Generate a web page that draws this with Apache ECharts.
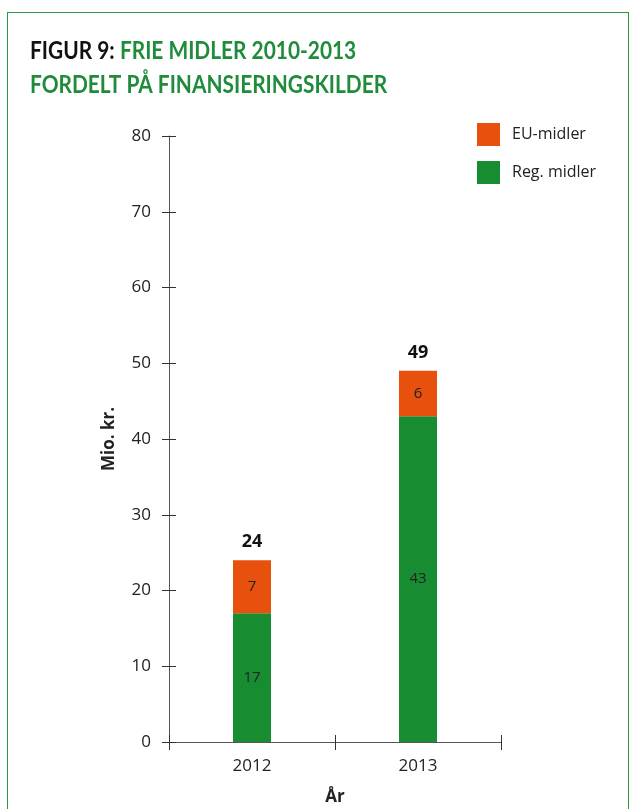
<!DOCTYPE html>
<html>
<head>
<meta charset="utf-8">
<script src="https://cdn.jsdelivr.net/npm/echarts@6/dist/echarts.min.js"></script>
<style>
html,body{margin:0;padding:0;background:#fff;overflow:hidden;width:630px;height:809px;}
#frame{position:absolute;left:7px;top:12px;width:622px;height:797px;border:1px solid #2b9a3e;border-bottom:none;box-sizing:border-box;}
#chart{position:absolute;left:0;top:0;width:630px;height:809px;}
</style>
</head>
<body>
<div id="frame"></div>
<div id="chart"></div>
<script>
const categories = ['2012', '2013'];
const regMidler = [17, 43];
const euMidler = [7, 6];
const totals = [24, 49];
const yTicks = [0, 10, 20, 30, 40, 50, 60, 70, 80];

const GREEN = '#178c31';
const ORANGE = '#e8500e';
const TXT = '#222';
const FONT = 'Open Sans';
const TFONT = 'Lato';

const chart = echarts.init(document.getElementById('chart'));
const yMin = yTicks[0], yMax = yTicks[yTicks.length - 1], yStep = yTicks[1] - yTicks[0];

chart.setOption({
  animation: false,
  graphic: [{
    type: 'text', x: 30, y: 34, scaleX: 0.835, scaleY: 1, originX: 0, originY: 0,
    style: {
      text: '{a|FIGUR 9:} {b|FRIE MIDLER 2010-2013}\n{b|FORDELT PÅ FINANSIERINGSKILDER}',
      verticalAlign: 'top', align: 'left',
      rich: {
        a: {fontFamily: TFONT, fontWeight: 'bold', fontSize: 25, fill: '#111', lineHeight: 34, padding: [0, 3, 0, 0]},
        b: {fontFamily: TFONT, fontWeight: 'bold', fontSize: 25, fill: '#1e8c3a', lineHeight: 34}
      }
    }
  }],
  legend: {
    orient: 'vertical', left: 477, top: 123, padding: 0,
    icon: 'rect',
    itemWidth: 23, itemHeight: 23, itemGap: 15,
    data: ['EU-midler', 'Reg. midler'],
    textStyle: {fontFamily: FONT, fontSize: 16, color: TXT, padding: [0, 0, 0, 7]}
  },
  grid: {left: 169, right: 129, top: 136, bottom: 67, containLabel: false, outerBoundsMode: 'none'},
  xAxis: [{
    type: 'category', data: categories, position: 'bottom',
    name: 'År', nameLocation: 'middle', nameGap: 47,
    nameTextStyle: {fontFamily: FONT, fontWeight: 'bold', fontSize: 17, color: TXT},
    axisLine: {lineStyle: {color: '#555', width: 1}},
    axisTick: {show: true, length: 8, lineStyle: {color: '#333'}},
    axisLabel: {fontFamily: FONT, fontSize: 17, color: TXT, margin: 16}
  }, {
    type: 'category', data: categories, position: 'bottom',
    axisLine: {show: false},
    axisTick: {show: true, inside: true, length: 7, lineStyle: {color: '#333'}},
    axisLabel: {show: false}
  }],
  yAxis: [{
    type: 'value', min: yMin, max: yMax, interval: yStep,
    name: 'Mio. kr.', nameLocation: 'middle', nameGap: 51, nameRotate: 90,
    nameTextStyle: {fontFamily: FONT, fontWeight: 'bold', fontSize: 17, color: TXT},
    axisLine: {show: true, lineStyle: {color: '#555', width: 1}},
    axisTick: {show: true, length: 7, lineStyle: {color: '#333'}},
    axisLabel: {fontFamily: FONT, fontSize: 17, color: TXT, margin: 18},
    splitLine: {show: false}
  }, {
    type: 'value', min: yMin, max: yMax, interval: yStep, position: 'left',
    axisLine: {show: false},
    axisTick: {show: true, inside: true, length: 7, lineStyle: {color: '#333'}},
    axisLabel: {show: false},
    splitLine: {show: false}
  }],
  series: [{
    name: 'Reg. midler', type: 'bar', stack: 'tot', data: regMidler, barWidth: 38,
    itemStyle: {color: GREEN},
    label: {show: true, position: 'inside', fontFamily: FONT, fontSize: 15, color: TXT}
  }, {
    name: 'EU-midler', type: 'bar', stack: 'tot', data: euMidler, barWidth: 38,
    itemStyle: {color: ORANGE},
    label: {show: true, position: 'inside', fontFamily: FONT, fontSize: 15, color: TXT}
  }, {
    name: 'total', type: 'bar', stack: 'tot', data: totals.map(() => 0), barWidth: 38,
    itemStyle: {color: 'transparent'},
    label: {show: true, position: 'top', distance: 9,
      formatter: p => String(totals[p.dataIndex]),
      fontFamily: FONT, fontWeight: 'bold', fontSize: 18, color: '#111'}
  }]
});
</script>
</body>
</html>
